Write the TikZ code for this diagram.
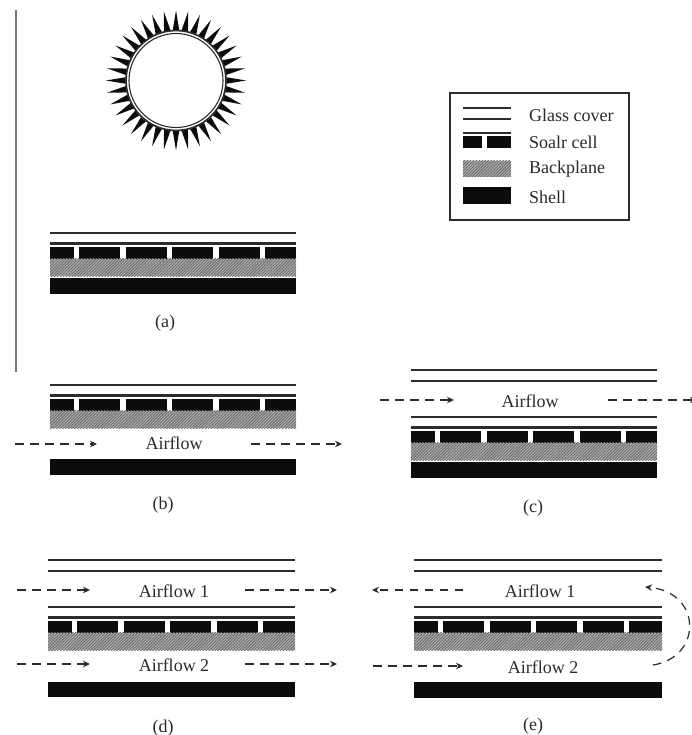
\documentclass[tikz,border=0pt]{standalone}
\usepackage{fontspec}
\setmainfont{Liberation Serif}
\usetikzlibrary{arrows.meta,calc,patterns.meta,positioning}
\definecolor{pvInk}{HTML}{0C0C0E}
\definecolor{pvLine}{HTML}{2C2C2E}
\definecolor{pvRule}{HTML}{77777A}
\definecolor{pvHatch}{HTML}{6C6C6E}
\definecolor{pvText}{HTML}{2A2A2C}
\tikzset{
  pv glass/.style={draw=pvLine, line width=2.4pt},
  pv cell/.style={fill=pvInk},
  pv gap/.style={fill=white},
  pv back/.style={
    preaction={fill=black!30},
    pattern={Lines[angle=45,distance=2.1pt,line width=.95pt]},
    pattern color=pvHatch
  },
  pv shell/.style={fill=pvInk},
  pv flow/.style={
    draw=pvLine,
    line width=1.2pt,
    dash pattern=on 8.5pt off 6.5pt,
    -{Stealth[length=7pt,width=6.5pt]}
  },
  pv sun/.style={draw=pvLine, line width=1.7pt, fill=white},
  pv spike/.style={fill=pvInk},
  pv legend/.style={draw=pvLine, line width=1.5pt},
  pv label/.style={font=\fontsize{18}{21}\selectfont, text=pvText, inner sep=0pt},
  pv key/.style={pv label, anchor=west}
}
% glass pair, cell row and backplane: left x, top y, width
\newcommand{\pvStack}[3]{
  \draw[pv glass] (#1,#2) -- ++(#3,0);
  \draw[pv glass] (#1,#2+10.5) -- ++(#3,0);
  \path[pv cell] (#1,#2+14) rectangle ++(#3,11.5);
  \foreach \gx in {23.5,70,116.5,163,209.5}
    \path[pv gap] (#1+\gx,#2+14) rectangle ++(5.5,11.5);
  \path[pv back] (#1,#2+25.5) rectangle ++(#3,17.5);
}
\begin{document}
\begin{tikzpicture}[x=1pt,y=-1pt]
  \useasboundingbox (0,0) rectangle (692,735);
  \draw[draw=pvRule, line width=1.6pt] (16,10) -- (16,372);

  % sun
  \coordinate (S) at (176,80.5);
  \foreach \ang in {0,10,...,350}
    \path[pv spike] ($(S)+(\ang+3.7:50.5)$) -- ($(S)+(\ang:70)$) -- ($(S)+(\ang-3.7:50.5)$) -- cycle;
  \draw[pv sun] (S) circle[radius=50];
  \draw[pv glass, line width=1.1pt] (S) circle[radius=47];

  % (a)
  \pvStack{50}{233}{246}
  \path[pv shell] (50,278) rectangle (296,294);
  \node[pv label] (capA) at (165,323) {(a)};

  % legend
  \draw[pv legend] (450,93) rectangle (629,220);
  \draw[pv glass] (463,108) -- (511,108);
  \draw[pv glass] (463,119) -- (511,119);
  \path[pv cell] (463,136) rectangle (511,148);
  \path[pv gap] (482,135) rectangle (487,148);
  \draw[pv glass] (463,133.2) -- (511,133.2);
  \path[pv back] (463,161) rectangle (511,177);
  \path[pv shell] (463,187) rectangle (511,204);
  \node[pv key] (keyGlass) at (529,115) {Glass cover};
  \node[pv key] (keyCell) at (529,142) {Soalr cell};
  \node[pv key] (keyBack) at (529,169) {Backplane};
  \node[pv key] (keyShell) at (529,197) {Shell};

  % (b)
  \pvStack{50}{385}{246}
  \path[pv shell] (50,459) rectangle (296,475);
  \node[pv label] (flowB) at (174,443.5) {Airflow};
  \node[pv label] (capB) at (163,505) {(b)};
  \coordinate (b1) at (15,444);
  \coordinate (b2) at (97,444);
  \coordinate (b3) at (251,444);
  \coordinate (b4) at (342,444);
  \draw[pv flow] (b1) -- (b2);
  \draw[pv flow] (b3) -- (b4);

  % (c)
  \draw[pv glass] (411,370) -- (657,370);
  \draw[pv glass] (411,381) -- (657,381);
  \pvStack{411}{417}{246}
  \path[pv shell] (411,462) rectangle (657,478);
  \node[pv label] (flowC) at (530,401) {Airflow};
  \node[pv label] (capC) at (533,508) {(c)};
  \coordinate (c1) at (380,400);
  \coordinate (c2) at (454,400);
  \coordinate (c3) at (608,400);
  \coordinate (c4) at (697,400);
  \draw[pv flow] (c1) -- (c2);
  \draw[pv flow] (c3) -- (c4);

  % (d)
  \draw[pv glass] (48,560) -- (295,560);
  \draw[pv glass] (48,571) -- (295,571);
  \pvStack{48}{607}{247}
  \path[pv shell] (48,682) rectangle (295,697);
  \node[pv label] (flowDa) at (174,591) {Airflow 1};
  \node[pv label] (flowDb) at (174,665) {Airflow 2};
  \node[pv label] (capD) at (163,728) {(d)};
  \coordinate (d1) at (17,590);
  \coordinate (d2) at (90,590);
  \coordinate (d3) at (245,590);
  \coordinate (d4) at (337,590);
  \coordinate (d5) at (17,664);
  \coordinate (d6) at (90,664);
  \coordinate (d7) at (245,664);
  \coordinate (d8) at (337,664);
  \draw[pv flow] (d1) -- (d2);
  \draw[pv flow] (d3) -- (d4);
  \draw[pv flow] (d5) -- (d6);
  \draw[pv flow] (d7) -- (d8);

  % (e)
  \draw[pv glass] (414,560) -- (662,560);
  \draw[pv glass] (414,571) -- (662,571);
  \pvStack{414}{607}{248}
  \path[pv shell] (414,682) rectangle (662,698);
  \node[pv label] (flowEa) at (540,591) {Airflow 1};
  \node[pv label] (flowEb) at (543,667) {Airflow 2};
  \node[pv label] (capE) at (533,726) {(e)};
  \coordinate (e1) at (463,590);
  \coordinate (e2) at (372,590);
  \coordinate (e3) at (373,666);
  \coordinate (e4) at (463,666);
  \coordinate (e5) at (653,665);
  \coordinate (e6) at (645,587);
  \draw[pv flow] (e1) -- (e2);
  \draw[pv flow] (e3) -- (e4);
  \draw[pv flow] (e5) .. controls (703,657) and (702,592) .. (e6);
\end{tikzpicture}
\end{document}
